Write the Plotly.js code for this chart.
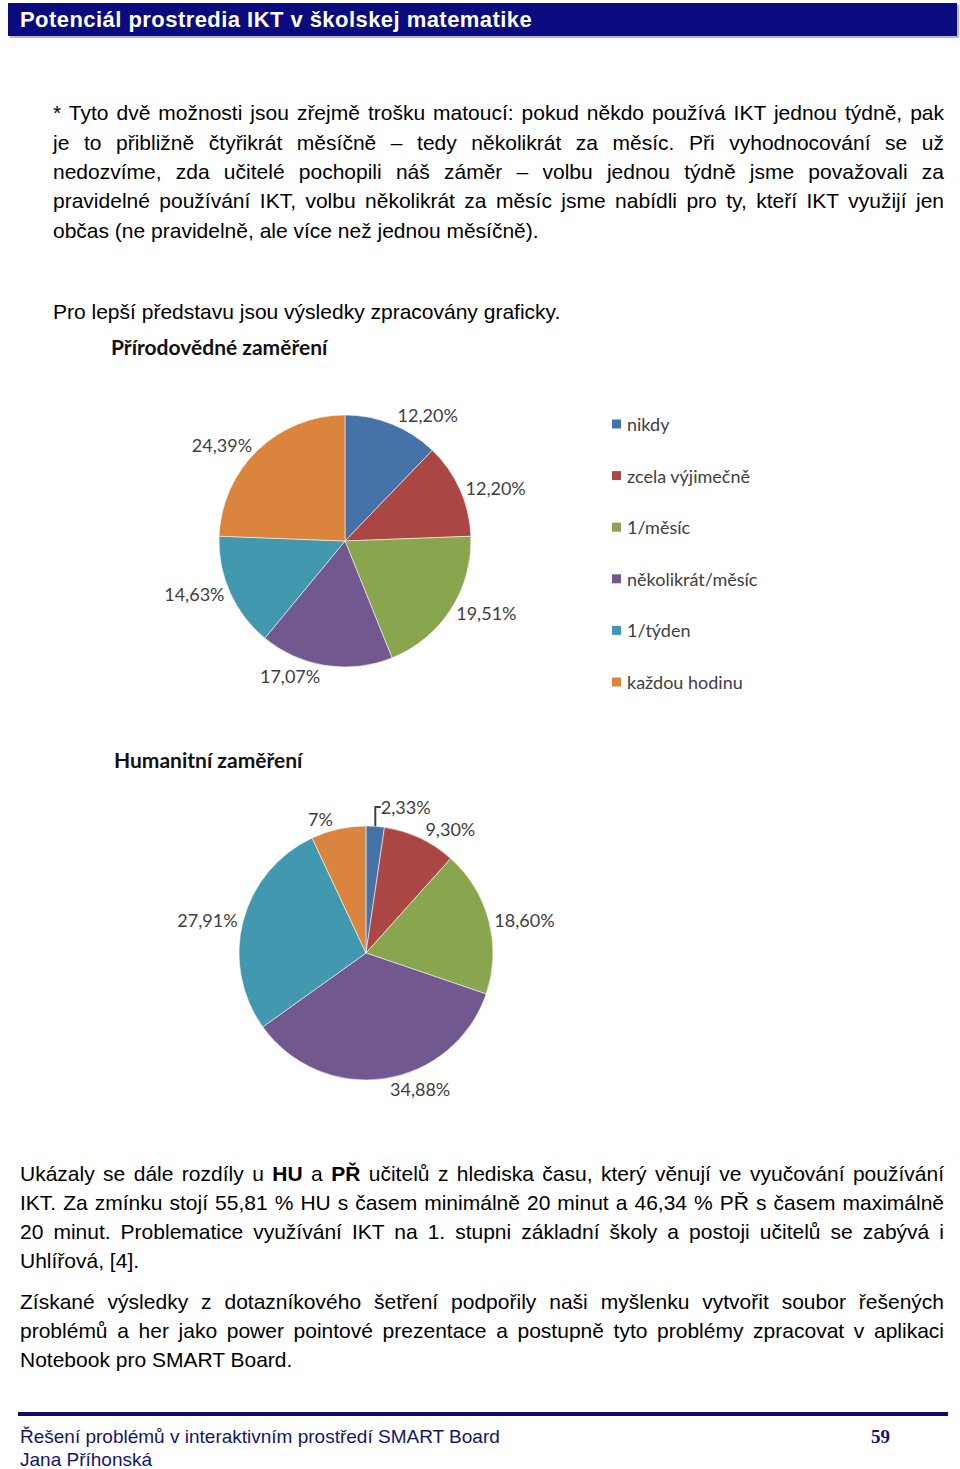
<!DOCTYPE html>
<html><head><meta charset="utf-8">
<script src="https://cdn.plot.ly/plotly-3.0.1.min.js"></script>
<style>
body{margin:0;background:#fff;}
#page{position:relative;width:960px;height:1469px;overflow:hidden;background:#fff;}
#chart{position:absolute;left:0;top:0;width:960px;height:1469px;}
.ln{position:absolute;font-family:"Liberation Sans",Arial,sans-serif;font-size:21px;line-height:29px;height:29px;color:#000;white-space:nowrap;}
.jj{text-align:justify;text-align-last:justify;white-space:normal;}
.hdr{position:absolute;left:8px;top:3px;width:949px;height:33px;background:#0b0b80;box-shadow:2px 2px 1px #b8b8c8;}
.hdr span{position:absolute;left:12px;top:0;line-height:33px;font-family:"Liberation Sans",Arial,sans-serif;font-weight:bold;font-size:22px;letter-spacing:0.45px;color:#fff;white-space:nowrap;}
.ttl{position:absolute;font-family:Lato,"Open Sans",sans-serif;font-weight:bold;font-size:21px;line-height:24px;color:#111;white-space:nowrap;}
.foot{position:absolute;font-family:"Liberation Sans",Arial,sans-serif;font-size:19px;line-height:22px;color:#14146e;white-space:nowrap;}
</style>
</head><body>
<div id="page">
<div id="chart"></div>
<div class="hdr"><span>Potenciál prostredia IKT v školskej matematike</span></div>

<div class="ln jj" style="left:53px;width:891px;top:98px;">* Tyto dvě možnosti jsou zřejmě trošku matoucí: pokud někdo používá IKT jednou týdně, pak</div>
<div class="ln jj" style="left:53px;width:891px;top:128px;">je to přibližně čtyřikrát měsíčně – tedy několikrát za měsíc. Při vyhodnocování se už</div>
<div class="ln jj" style="left:53px;width:891px;top:157px;">nedozvíme, zda učitelé pochopili náš záměr – volbu jednou týdně jsme považovali za</div>
<div class="ln jj" style="left:53px;width:891px;top:186px;">pravidelné používání IKT, volbu několikrát za měsíc jsme nabídli pro ty, kteří IKT využijí jen</div>
<div class="ln" style="left:53px;top:216px;">občas (ne pravidelně, ale více než jednou měsíčně).</div>
<div class="ln" style="left:53px;top:297px;">Pro lepší představu jsou výsledky zpracovány graficky.</div>

<div class="ttl" style="left:111px;top:335px;">Přírodovědné zaměření</div>
<div class="ttl" style="left:114px;top:748px;">Humanitní zaměření</div>

<div class="ln jj" style="left:20px;width:924px;top:1159px;">Ukázaly se dále rozdíly u <b>HU</b> a <b>PŘ</b> učitelů z&nbsp;hlediska času, který věnují ve vyučování používání</div>
<div class="ln jj" style="left:20px;width:924px;top:1188px;">IKT. Za zmínku stojí 55,81 % HU s časem minimálně 20 minut a 46,34 % PŘ s časem maximálně</div>
<div class="ln jj" style="left:20px;width:924px;top:1217px;">20 minut. Problematice využívání IKT na 1. stupni základní školy a postoji učitelů se zabývá i</div>
<div class="ln" style="left:20px;top:1246px;">Uhlířová, [4].</div>

<div class="ln jj" style="left:20px;width:924px;top:1287px;">Získané výsledky z&nbsp;dotazníkového šetření podpořily naši myšlenku vytvořit soubor řešených</div>
<div class="ln jj" style="left:20px;width:924px;top:1316px;">problémů a her jako power pointové prezentace a postupně tyto problémy zpracovat v aplikaci</div>
<div class="ln" style="left:20px;top:1345px;">Notebook pro SMART Board.</div>

<div style="position:absolute;left:18px;top:1412px;width:930px;height:4px;background:#0b0b70;"></div>
<div class="foot" style="left:20px;top:1426px;">Řešení problémů v interaktivním prostředí SMART Board</div>
<div class="foot" style="left:20px;top:1449px;">Jana Příhonská</div>
<div class="foot" style="left:871px;top:1426px;font-family:'Liberation Serif','Times New Roman',serif;font-weight:bold;">59</div>
</div>

<script>
// ---- data ----
const categories = ['nikdy', 'zcela výjimečně', '1/měsíc', 'několikrát/měsíc', '1/týden', 'každou hodinu'];
const colors = ['#4572A7', '#AA4643', '#89A54E', '#71588F', '#4198AF', '#DB843D'];
const prirodovedneValues = [12.20, 12.20, 19.51, 17.07, 14.63, 24.39];
const prirodovedneLabels = ['12,20%', '12,20%', '19,51%', '17,07%', '14,63%', '24,39%'];
const humanitniValues = [2.33, 9.30, 18.60, 34.88, 27.91, 6.98];
const humanitniLabels = ['2,33%', '9,30%', '18,60%', '34,88%', '27,91%', '7%'];

// page geometry helpers (pixel -> paper)
const W = 960, H = 1469;
const px = x => x / W;
const py = y => 1 - y / H;
const labelFont = { family: 'Lato, "Open Sans", sans-serif', size: 18, color: '#404040' };

function pieTrace(values, labels, cx, cy, r) {
  return {
    type: 'pie',
    labels: categories,
    values: values,
    text: labels,
    textinfo: 'text',
    textposition: 'outside',
    sort: false,
    direction: 'clockwise',
    rotation: 0,
    hoverinfo: 'none',
    automargin: false,
    marker: { colors: colors, line: { color: 'rgba(255,255,255,0.55)', width: 1 } },
    outsidetextfont: labelFont,
    domain: { x: [px(cx - r), px(cx + r)], y: [py(cy + r), py(cy - r)] }
  };
}

const data = [
  pieTrace(prirodovedneValues, prirodovedneLabels, 345, 541, 126),
  pieTrace(humanitniValues, humanitniLabels, 366, 953, 127)
];

// custom legend (Přírodovědné chart)
const legendX = 612, legendY0 = 424, legendGap = 51.6;
const shapes = [], annotations = [];
categories.forEach((c, i) => {
  const y = legendY0 + i * legendGap;
  shapes.push({ type: 'rect', xref: 'paper', yref: 'paper',
    x0: px(legendX), x1: px(legendX + 9), y0: py(y + 4.5), y1: py(y - 4.5),
    fillcolor: colors[i], line: { width: 0 } });
  annotations.push({ xref: 'paper', yref: 'paper', x: px(legendX + 13), y: py(y),
    xanchor: 'left', yanchor: 'middle', text: c, showarrow: false,
    font: labelFont });
});

const layout = {
  width: W, height: H,
  margin: { l: 0, r: 0, t: 0, b: 0 },
  paper_bgcolor: 'rgba(0,0,0,0)',
  plot_bgcolor: 'rgba(0,0,0,0)',
  showlegend: false,
  shapes: shapes,
  annotations: annotations
};

Plotly.newPlot('chart', data, layout, { staticPlot: true, displayModeBar: false });
</script>
</body></html>
